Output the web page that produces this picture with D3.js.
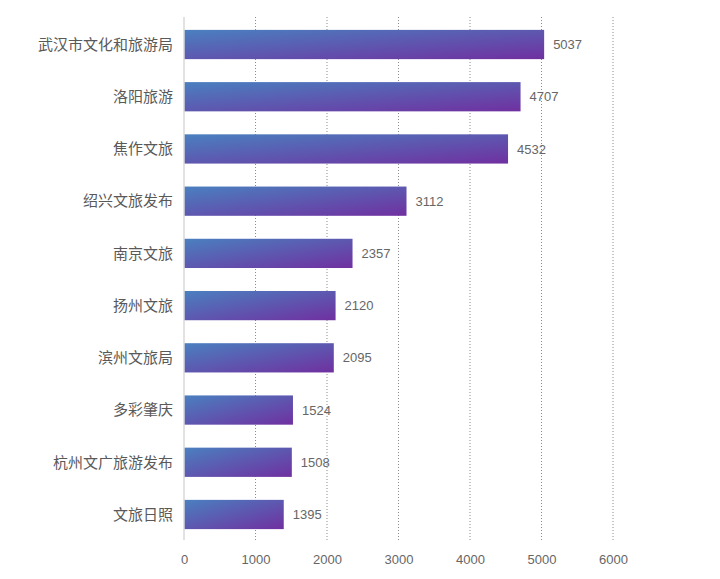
<!DOCTYPE html>
<html><head><meta charset="utf-8">
<script src="https://cdn.jsdelivr.net/npm/d3@7"></script>
<style>body{margin:0;background:#fff}</style>
</head><body><div id="chart"></div>
<script>
const names = ['武汉市文化和旅游局','洛阳旅游','焦作文旅','绍兴文旅发布','南京文旅','扬州文旅','滨州文旅局','多彩肇庆','杭州文广旅游发布','文旅日照'];
const values = [5037, 4707, 4532, 3112, 2357, 2120, 2095, 1524, 1508, 1395];
const ticks = [0, 1000, 2000, 3000, 4000, 5000, 6000];

const W = 720, H = 579;
const svg = d3.select('#chart').append('svg').attr('width', W).attr('height', H)
  .style('font-family', '"Noto Sans CJK SC", "Liberation Sans", sans-serif');

const defs = svg.append('defs');
const grad = defs.append('linearGradient').attr('id', 'bg')
  .attr('x1', 0).attr('y1', 0).attr('x2', 1).attr('y2', 1);
grad.append('stop').attr('offset', '0%').attr('stop-color', '#4a80c0');
grad.append('stop').attr('offset', '100%').attr('stop-color', '#7030a0');

const x = d3.scaleLinear().domain([0, 6000]).range([184, 613]);
const y = d3.scaleBand().domain(names).range([18.4, 540.6]).paddingInner(0.44).paddingOuter(0.22);

// dotted gridlines
svg.append('g').selectAll('line').data(ticks.slice(1)).join('line')
  .attr('x1', d => x(d)).attr('x2', d => x(d))
  .attr('y1', 17).attr('y2', 540)
  .attr('stroke', '#8c8c8c').attr('stroke-dasharray', '1,2');

// value axis labels
svg.append('g').attr('transform', 'translate(0,540)')
  .call(d3.axisBottom(x).tickValues(ticks).tickSize(0).tickPadding(15).tickFormat(d3.format('d')))
  .call(g => g.select('.domain').remove())
  .selectAll('text').attr('fill', '#666').style('font-size', '13px')
  .style('font-family', '"Liberation Sans", sans-serif');

// bars
svg.append('g').selectAll('rect').data(values).join('rect')
  .attr('x', x(0)).attr('y', (d, i) => y(names[i]))
  .attr('width', d => x(d) - x(0)).attr('height', y.bandwidth())
  .attr('fill', 'url(#bg)');

// baseline
svg.append('line').attr('x1', x(0)).attr('x2', x(0)).attr('y1', 17).attr('y2', 540)
  .attr('stroke', '#d9d9d9').attr('stroke-width', 1.5);

// category labels
svg.append('g').selectAll('text').data(names).join('text')
  .attr('x', 173).attr('y', d => y(d) + y.bandwidth() / 2)
  .attr('dy', '0.35em').attr('text-anchor', 'end')
  .attr('fill', '#595959').style('font-size', '15px').text(d => d);

// value labels
svg.append('g').selectAll('text').data(values).join('text')
  .attr('x', d => x(d) + 9).attr('y', (d, i) => y(names[i]) + y.bandwidth() / 2)
  .attr('dy', '0.35em').attr('fill', '#666')
  .style('font-size', '13px').style('font-family', '"Liberation Sans", sans-serif')
  .text(d => d);
</script></body></html>
